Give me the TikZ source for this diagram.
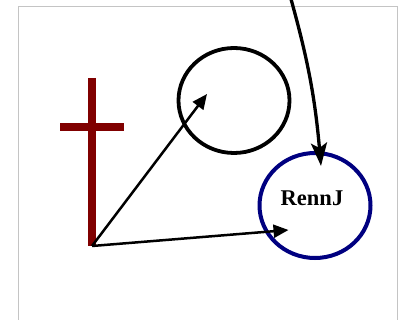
\documentclass[tikz,border=0pt]{standalone}
\usepackage{fontspec}
\newfontfamily\labelfont{Liberation Serif}
\usetikzlibrary{arrows.meta,shapes.geometric}
\definecolor{bordergray}{RGB}{196,196,196}
\definecolor{crossred}{RGB}{128,0,0}
\definecolor{ringblue}{RGB}{0,0,128}
\tikzset{
  ring/.style={ellipse, draw, inner sep=0pt, minimum width=111pt, minimum height=105pt},
  ptr/.style={line width=2.5pt, -{Triangle[length=15pt,width=13pt]}},
  bigptr/.style={line width=3.3pt, -{Stealth[length=23pt,width=16pt,inset=5pt]}},
  crossbar/.style={line width=8pt, crossred}
}
\begin{document}
\begin{tikzpicture}[x=1pt,y=-1pt]
\useasboundingbox (0,0) rectangle (404,320);
\draw[bordergray, line width=1.4pt] (18.3,6.7) -- (397.3,6.7) -- (397.3,330) (18.3,330) -- (18.3,6.7);
% cross
\draw[crossbar] (92,78) -- (92,246);
\draw[crossbar] (60,126.8) -- (124,126.8);
% circles
\node[ring, line width=3.8pt, black] (ringA) at (234,100.5) {};
\node[ring, line width=4pt, ringblue] (ringB) at (315,205.5) {};
\node[font=\labelfont\fontsize{22.5}{24}\selectfont\bfseries, inner sep=0pt, anchor=base] (lbl) at (312,206) {RennJ};
% coordinates
\coordinate (origin) at (92,246);
\coordinate (tipA) at (207,94);
\coordinate (tipB) at (288.5,230);
\coordinate (tipC) at (321,166);
\coordinate (src) at (287,-15);
\draw[ptr] (origin) -- (tipA);
\draw[ptr] (origin) -- (tipB);
\draw[bigptr] (src) to[out=-74,in=95] (tipC);
\end{tikzpicture}
\end{document}
